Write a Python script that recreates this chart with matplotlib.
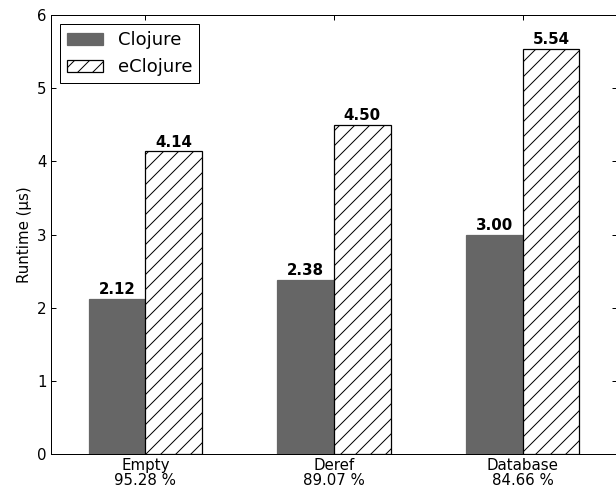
import numpy as np
import matplotlib
matplotlib.use('Agg')
import matplotlib.pyplot as plt

# data
benchmarks = ['Empty', 'Deref', 'Database']
ratios = ['95.28 %', '89.07 %', '84.66 %']
clojure = [2.12, 2.38, 3.00]
eclojure = [4.14, 4.50, 5.54]

DPI = 90
plt.rcParams['hatch.linewidth'] = 0.8

fig = plt.figure(figsize=(616 / DPI, 490 / DPI), dpi=DPI)
ax = fig.add_axes([51 / 616, 1 - 454 / 490, (617 - 51) / 616, (454 - 15) / 490])

x = np.arange(len(benchmarks))
w = 0.3
b1 = ax.bar(x - w / 2, clojure, w, color='#666666', edgecolor='#666666', label='Clojure')
b2 = ax.bar(x + w / 2, eclojure, w, color='white', edgecolor='black', hatch='//', label='eClojure')

# value labels on top of the bars
for bars in (b1, b2):
    for r in bars:
        h = r.get_height()
        ax.text(r.get_x() + r.get_width() / 2, h + 0.02, f'{h:.2f}',
                ha='center', va='bottom', fontsize=12, fontweight='bold')

ax.set_xlim(-0.5, 2.5)
ax.set_ylim(0, 6)
ax.set_xticks(x)
ax.set_xticklabels([f'{b}\n{r}' for b, r in zip(benchmarks, ratios)], fontsize=12, linespacing=0.95)
ax.set_yticks(range(7))
ax.tick_params(axis='y', labelsize=12)
ax.tick_params(direction='in', top=True, right=True, length=4)
ax.set_ylabel('Runtime (µs)', fontsize=12)

leg = ax.legend(loc='upper left', fontsize=14.4, fancybox=False, edgecolor='black',
                framealpha=1, handlelength=2.0, borderaxespad=0.5)
leg.get_frame().set_linewidth(0.8)

fig.savefig('out.png', dpi=DPI)
